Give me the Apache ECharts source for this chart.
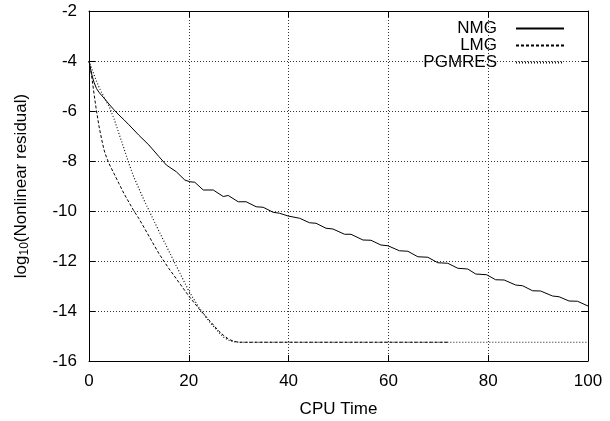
<!DOCTYPE html>
<html>
<head>
<meta charset="utf-8">
<title>Nonlinear residual vs CPU time</title>
<script src="https://cdn.jsdelivr.net/npm/echarts@6/dist/echarts.min.js"></script>
<style>
  html, body { margin: 0; padding: 0; background: #fff; }
  #chart { width: 610px; height: 421px; }
</style>
</head>
<body>
<div id="chart"></div>
<script>
var nmgTime = [0, 0.5, 1, 1.5, 2, 2.5, 3, 4, 5, 6, 7, 8, 10, 12, 14, 15.5, 17.5, 19.2, 20.2, 21.2,
  22.9, 24.9, 26.9, 27.9, 29.9, 31.5, 33.5, 34.9, 36.9, 38.2, 39.9, 42.2, 44.2, 45.5, 47.5, 48.9,
  51.2, 52.5, 54.9, 56.5, 58.5, 59.9, 62.2, 63.9, 65.9, 67.9, 69.9, 71.9, 73.9, 75.9, 77.5, 79.7,
  81.5, 83.2, 85.5, 86.9, 88.9, 90.5, 92.9, 94.2, 96.2, 97.9, 100];
var nmgResidual = [-4, -4.5, -4.85, -5.1, -5.25, -5.37, -5.48, -5.72, -5.95, -6.16, -6.35, -6.55, -6.97, -7.36, -7.82, -8.16, -8.43, -8.76, -8.83, -8.85,
  -9.16, -9.16, -9.42, -9.38, -9.63, -9.63, -9.83, -9.85, -10.05, -10.09, -10.2, -10.29, -10.47, -10.49, -10.69, -10.72,
  -10.93, -10.93, -11.16, -11.17, -11.36, -11.39, -11.59, -11.61, -11.83, -11.85, -12.07, -12.09, -12.29, -12.32, -12.52, -12.55,
  -12.75, -12.76, -12.96, -12.99, -13.19, -13.2, -13.4, -13.43, -13.6, -13.61, -13.8];

var lmgTime = [0, 0.5, 1, 1.5, 2, 2.5, 3, 3.5, 4, 5, 6, 7, 8, 9, 10, 12, 14, 16, 18, 20, 22, 24, 26, 27, 28, 29, 30, 72];
var lmgResidual = [-4, -4.55, -5.3, -6.0, -6.6, -7.1, -7.55, -7.85, -8.1, -8.5, -8.9, -9.3, -9.65, -10.0, -10.3, -11.0, -11.7, -12.3, -12.85, -13.4, -13.9, -14.35, -14.8, -14.98, -15.13, -15.21, -15.25, -15.25];

var pgmresTime = [0, 1, 2, 3, 4, 5, 6, 7, 8, 9, 10, 11, 12, 14, 16, 18, 20, 22, 24, 26, 27, 28, 29, 30, 100];
var pgmresResidual = [-4, -4.55, -5.05, -5.45, -5.8, -6.3, -6.9, -7.5, -8.1, -8.65, -9.1, -9.55, -9.97, -10.8, -11.6, -12.4, -13.2, -13.85, -14.4, -14.85, -15.05, -15.17, -15.23, -15.25, -15.25];

var seriesNames = ["NMG", "LMG", "PGMRES"];
var xTicks = [0, 20, 40, 60, 80, 100];
var yTicks = [-16, -14, -12, -10, -8, -6, -4, -2];

(function (echarts) {
  "use strict";

  var FONT = "Liberation Sans, Arial, sans-serif";

  function pairs(xs, ys) {
    return xs.map(function (x, i) { return [x, ys[i]]; });
  }

  // gnuplot style frame: ticks inside on all four sides
  function frameAxis(extra) {
    var base = {
      type: "value",
      axisLine: { show: true, onZero: false, lineStyle: { color: "#000", width: 1 } },
      axisTick: { show: true, inside: true, length: 6, lineStyle: { color: "#000" } },
      splitLine: { show: false },
      axisLabel: { show: false }
    };
    for (var k in extra) { base[k] = extra[k]; }
    return base;
  }

  var gridLine = { show: true, lineStyle: { color: "#333", type: [1, 2], width: 1 } };
  var labelStyle = { color: "#000", fontSize: 17, fontFamily: FONT };

  var chart = echarts.init(document.getElementById("chart"));

  chart.setOption({
    backgroundColor: "#fff",
    animation: false,
    grid: { left: 89, right: 22, top: 11, bottom: 60, outerBoundsMode: "none" },
    legend: {
      data: seriesNames,
      orient: "vertical",
      align: "right",
      right: 40,
      top: 15,
      itemWidth: 48,
      itemHeight: 12,
      itemGap: 0,
      itemStyle: { opacity: 0 },
      textStyle: { color: "#000", fontSize: 17, fontFamily: FONT, padding: [0, 14, 0, 0] }
    },
    xAxis: [
      frameAxis({
        min: xTicks[0], max: xTicks[xTicks.length - 1], interval: 20,
        splitLine: gridLine,
        axisLabel: { show: true, margin: 12, color: labelStyle.color, fontSize: labelStyle.fontSize, fontFamily: FONT },
        name: "CPU Time",
        nameLocation: "middle",
        nameGap: 40,
        nameTextStyle: labelStyle
      }),
      frameAxis({ position: "top", min: 0, max: 100, interval: 20 })
    ],
    yAxis: [
      frameAxis({
        min: yTicks[0], max: yTicks[yTicks.length - 1], interval: 2,
        splitLine: gridLine,
        axisLabel: { show: true, margin: 12, color: labelStyle.color, fontSize: labelStyle.fontSize, fontFamily: FONT },
        name: "{t|log}{s|10}{t|(Nonlinear residual)}",
        nameLocation: "middle",
        nameGap: 58,
        nameTextStyle: {
          rich: {
            t: { fontSize: 17, fontFamily: FONT, color: "#000" },
            s: { fontSize: 12, fontFamily: FONT, color: "#000", verticalAlign: "bottom", padding: [8, 0, 0, 0] }
          }
        }
      }),
      frameAxis({ position: "right", min: -16, max: -2, interval: 2 })
    ],
    series: [
      {
        name: seriesNames[0], type: "line", symbol: "none",
        data: pairs(nmgTime, nmgResidual),
        lineStyle: { color: "#000", width: 1, type: "solid" },
        itemStyle: { color: "#000" }
      },
      {
        name: seriesNames[1], type: "line", symbol: "none",
        data: pairs(lmgTime, lmgResidual),
        lineStyle: { color: "#000", width: 1, type: [3, 2] },
        itemStyle: { color: "#000" }
      },
      {
        name: seriesNames[2], type: "line", symbol: "none",
        data: pairs(pgmresTime, pgmresResidual),
        lineStyle: { color: "#111", width: 1.2, type: [1, 2] },
        itemStyle: { color: "#000" }
      }
    ]
  });
})(echarts);
</script>
</body>
</html>
